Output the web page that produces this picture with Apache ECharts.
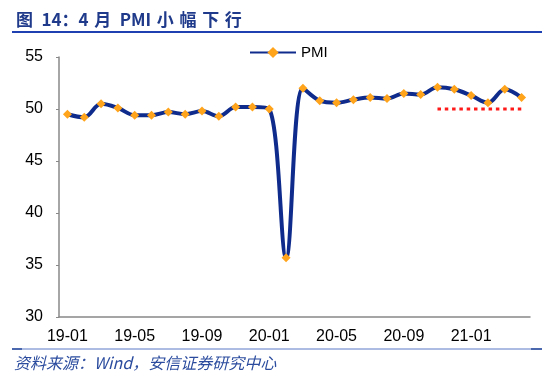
<!DOCTYPE html>
<html>
<head>
<meta charset="utf-8">
<script src="https://cdn.jsdelivr.net/npm/echarts@6/dist/echarts.min.js"></script>
<style>
  html, body { margin: 0; padding: 0; background: #fff; }
  #chart { width: 550px; height: 378px; }
</style>
</head>
<body>
<div id="chart"></div>
<script>
// 月份（19-01 ~ 21-04）
const months = [
    '19-01', '19-02', '19-03', '19-04', '19-05', '19-06', '19-07', '19-08', '19-09', '19-10', '19-11', '19-12',
    '20-01', '20-02', '20-03', '20-04', '20-05', '20-06', '20-07', '20-08', '20-09', '20-10', '20-11', '20-12',
    '21-01', '21-02', '21-03', '21-04'
];
// 制造业 PMI
const pmiValues = [
    49.5, 49.2, 50.5, 50.1, 49.4, 49.4, 49.7, 49.5, 49.8, 49.3, 50.2, 50.2,
    50.0, 35.7, 52.0, 50.8, 50.6, 50.9, 51.1, 51.0, 51.5, 51.4, 52.1, 51.9,
    51.3, 50.6, 51.9, 51.1
];
// 荣枯线（仅最近几个月画出）
const baseLine = [
    null, null, null, null, null, null, null, null, null, null, null, null,
    null, null, null, null, null, null, null, null, null, null, 50, 50,
    50, 50, 50, 50
];
const yTicks = [30, 35, 40, 45, 50, 55];

const dom = document.getElementById('chart');
const myChart = echarts.init(dom);

// 标题字间距较宽，用窄空格撑开
const sp = '\u2004';
const titleText = '图' + '\u2002' + '14：4' + sp + '月' + '\u2002' + 'PMI' + sp + '小' + sp + '幅' + sp + '下' + sp + '行';

const option = {
    animation: false,
    title: {
        text: titleText,
        left: 11,
        top: 6,
        textStyle: {
            fontFamily: 'Noto Sans CJK SC',
            fontSize: 17,
            fontWeight: 'bold',
            color: '#1F3A8A'
        }
    },
    graphic: [
        {
            type: 'line',
            shape: { x1: 12, y1: 32, x2: 542, y2: 32 },
            style: { stroke: '#1F40B0', lineWidth: 2 }
        },
        {
            type: 'line',
            shape: { x1: 12, y1: 349, x2: 542, y2: 349 },
            style: { stroke: '#5B78C4', lineWidth: 1 }
        },
        {
            type: 'line',
            shape: { x1: 12, y1: 349, x2: 22, y2: 349 },
            style: { stroke: '#2B4C9E', lineWidth: 1.5 }
        },
        {
            type: 'line',
            shape: { x1: 531, y1: 349, x2: 542, y2: 349 },
            style: { stroke: '#2B4C9E', lineWidth: 1.5 }
        },
        {
            type: 'text',
            left: 14,
            top: 355,
            style: {
                text: '资料来源：Wind，安信证券研究中心',
                font: 'italic 16px "Noto Sans CJK SC"',
                fill: '#2B4C9E'
            }
        }
    ],
    legend: {
        data: ['PMI'],
        left: 244,
        top: 40,
        itemWidth: 46,
        itemHeight: 14,
        itemGap: 2,
        textStyle: { fontFamily: 'Liberation Sans', fontSize: 15, color: '#000' }
    },
    grid: {
        left: 59,
        right: 20,
        top: 57,
        bottom: 61
    },
    xAxis: {
        type: 'category',
        data: months,
        boundaryGap: true,
        axisLine: { lineStyle: { color: '#888', width: 1.5 } },
        axisTick: { inside: true, length: 4, interval: 3, lineStyle: { color: '#888' } },
        axisLabel: {
            interval: 3,
            color: '#000',
            fontFamily: 'Liberation Sans',
            fontSize: 16,
            margin: 12
        }
    },
    yAxis: {
        type: 'value',
        min: yTicks[0],
        max: yTicks[yTicks.length - 1],
        interval: 5,
        splitLine: { show: false },
        axisLine: { show: true, lineStyle: { color: '#888', width: 1.5 } },
        axisTick: { show: true, length: 3, lineStyle: { color: '#888' } },
        axisLabel: {
            color: '#000',
            fontFamily: 'Liberation Sans',
            fontSize: 16,
            margin: 16
        }
    },
    series: [
        {
            name: '荣枯线',
            type: 'line',
            data: baseLine,
            symbol: 'none',
            lineStyle: { color: '#FF1A1A', width: 3, type: [3.5, 3.8] },
            z: 1
        },
        {
            name: 'PMI',
            type: 'line',
            data: pmiValues,
            smooth: 0.35,
            symbol: 'diamond',
            symbolSize: 9,
            lineStyle: { color: '#0F2C8C', width: 4 },
            itemStyle: { color: '#FFA41B', borderWidth: 0 },
            z: 2
        }
    ]
};

myChart.setOption(option, true);
window.addEventListener('resize', function () { myChart.resize(); });
</script>
</body>
</html>
